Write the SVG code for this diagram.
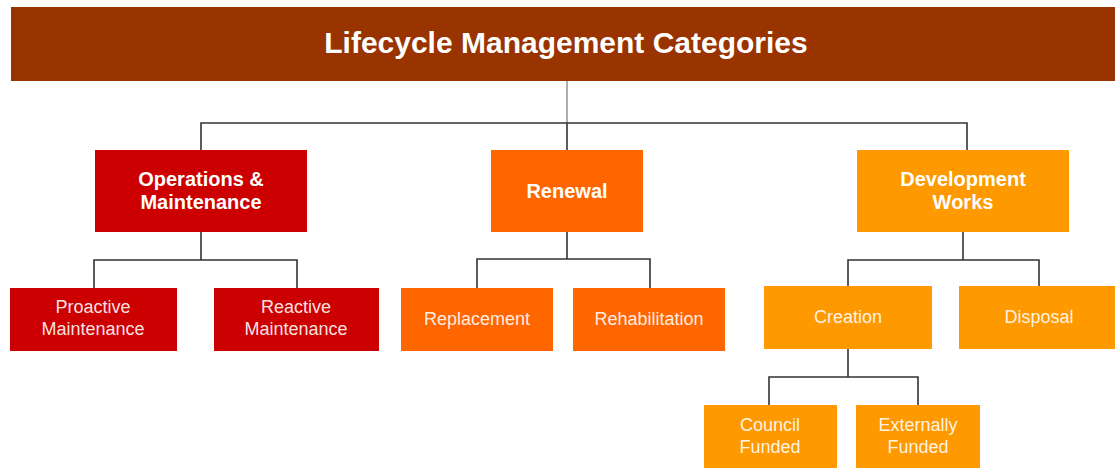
<svg xmlns="http://www.w3.org/2000/svg" width="1115" height="468" viewBox="0 0 1115 468">
  <style>
    .title { font-family: "Liberation Sans", Arial, sans-serif; font-weight: bold; font-size: 30px; fill: #ffffff; text-anchor: middle; }
    .mid { font-family: "Liberation Sans", Arial, sans-serif; font-weight: bold; font-size: 20px; fill: #ffffff; text-anchor: middle; }
    .leaf { font-family: "Liberation Sans", Arial, sans-serif; font-size: 18px; fill: #ffffff; fill-opacity: 0.9; text-anchor: middle; }
    .ops { fill: #cc0000; }
    .ren { fill: #ff6600; }
    .dev { fill: #ff9900; }
    .conn { fill: none; stroke: #333333; stroke-width: 1.6; }
    .drop { fill: none; stroke: #777777; stroke-width: 1.2; }
  </style>

  <!-- connectors -->
  <g id="connectors">
    <line class="drop" x1="567" y1="81" x2="567" y2="123"/>
    <path class="conn" d="M201 150 V123 H967 V150"/>
    <line class="conn" x1="567" y1="123" x2="567" y2="150"/>
    <!-- Operations & Maintenance branch -->
    <path class="conn" d="M201 232 V260"/>
    <path class="conn" d="M94 288 V260 H297 V288"/>
    <!-- Renewal branch -->
    <path class="conn" d="M567 232 V259"/>
    <path class="conn" d="M477 288 V259 H650 V288"/>
    <!-- Development Works branch -->
    <path class="conn" d="M963 232 V260"/>
    <path class="conn" d="M848 286 V260 H1039 V286"/>
    <!-- Creation branch -->
    <path class="conn" d="M848 349 V377"/>
    <path class="conn" d="M769 405 V377 H918 V405"/>
  </g>

  <g id="header">
    <rect x="11" y="7" width="1110" height="74" fill="#993300"/>
    <text class="title" x="566" y="53">Lifecycle Management Categories</text>
  </g>

  <g id="operations-maintenance">
    <rect class="ops" x="95" y="150" width="212" height="82"/>
    <text class="mid" x="201" y="186">Operations &amp;</text>
    <text class="mid" x="201" y="209">Maintenance</text>
  </g>

  <g id="proactive-maintenance">
    <rect class="ops" x="10" y="288" width="167" height="63"/>
    <text class="leaf" x="93" y="313">Proactive</text>
    <text class="leaf" x="93" y="335">Maintenance</text>
  </g>

  <g id="reactive-maintenance">
    <rect class="ops" x="214" y="288" width="165" height="63"/>
    <text class="leaf" x="296" y="313">Reactive</text>
    <text class="leaf" x="296" y="335">Maintenance</text>
  </g>

  <g id="renewal">
    <rect class="ren" x="491" y="150" width="152" height="82"/>
    <text class="mid" x="567" y="198">Renewal</text>
  </g>

  <g id="replacement">
    <rect class="ren" x="401" y="288" width="152" height="63"/>
    <text class="leaf" x="477" y="325">Replacement</text>
  </g>

  <g id="rehabilitation">
    <rect class="ren" x="573" y="288" width="152" height="63"/>
    <text class="leaf" x="649" y="325">Rehabilitation</text>
  </g>

  <g id="development-works">
    <rect class="dev" x="857" y="150" width="212" height="82"/>
    <text class="mid" x="963" y="186">Development</text>
    <text class="mid" x="963" y="209">Works</text>
  </g>

  <g id="creation">
    <rect class="dev" x="764" y="286" width="168" height="63"/>
    <text class="leaf" x="848" y="323">Creation</text>
  </g>

  <g id="disposal">
    <rect class="dev" x="959" y="286" width="160" height="63"/>
    <text class="leaf" x="1039" y="323">Disposal</text>
  </g>

  <g id="council-funded">
    <rect class="dev" x="704" y="405" width="133" height="70"/>
    <text class="leaf" x="770" y="431">Council</text>
    <text class="leaf" x="770" y="453">Funded</text>
  </g>

  <g id="externally-funded">
    <rect class="dev" x="856" y="405" width="124" height="70"/>
    <text class="leaf" x="918" y="431">Externally</text>
    <text class="leaf" x="918" y="453">Funded</text>
  </g>
</svg>
